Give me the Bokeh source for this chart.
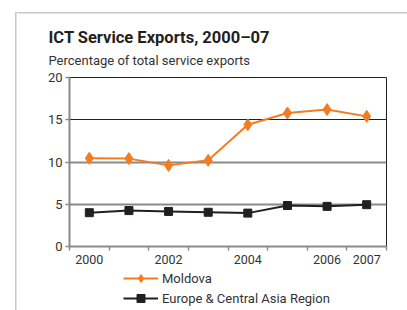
from bokeh.plotting import figure
from bokeh.layouts import column, row
from bokeh.models import (FixedTicker, Grid, Legend, LegendItem, Label, Range1d, BoxAnnotation)
from bokeh.embed import file_html
from bokeh.resources import INLINE

years = ["2000", "2001", "2002", "2003", "2004", "2005", "2006", "2007"]
shown_labels = ["2000", "", "2002", "", "2004", "", "2006", "2007"]
moldova = [10.45, 10.4, 9.6, 10.2, 14.4, 15.8, 16.2, 15.4]
eca = [4.0, 4.25, 4.15, 4.05, 3.95, 4.85, 4.75, 4.95]
y_ticks = [0, 5, 10, 15, 20]
series_names = ["Moldova", "Europe & Central Asia Region"]
title_text = "ICT Service Exports, 2000–07"
subtitle_text = "Percentage of total service exports"

FONT = "Roboto"
ORANGE = "#F47B20"
BLACK = "#231F20"
GRAY = "#8A8A8A"
TXT = "#333333"
FRAME = "#444444"
LW = 17
W = 390
H_T, H_P, H_L = 70, 198, 42

xs = [i + 0.5 for i in range(len(years))]


def strip(width, height):
    f = figure(width=width, height=height, output_backend="svg", toolbar_location=None, title=None,
               x_axis_type=None, y_axis_type=None, x_range=Range1d(0, 1), y_range=Range1d(0, 1),
               min_border_left=0, min_border_right=0, min_border_top=0, min_border_bottom=0)
    f.outline_line_color = None
    f.grid.visible = False
    f.frame_align = False
    return f


# ---- left strip carrying the outer frame's left edge
ls = strip(LW, H_T + H_P + H_L)
ls.add_layout(BoxAnnotation(left=15.25, right=500, top=H_T + H_P + H_L - 12.25, bottom=-50,
                            left_units="screen", right_units="screen",
                            top_units="screen", bottom_units="screen",
                            fill_alpha=0, line_color=FRAME, line_width=1.5))

# ---- title strip
t = strip(W, H_T)
t.add_layout(BoxAnnotation(left=-50, right=1000, top=H_T - 12.25, bottom=-50,
                           left_units="screen", right_units="screen",
                           top_units="screen", bottom_units="screen",
                           fill_alpha=0, line_color=FRAME, line_width=1.5))
t.add_layout(Label(x=31, y=33.5, x_units="screen", y_units="screen", text=title_text,
                   text_font=FONT, text_font_style="bold", text_font_size="16.5px", text_color=BLACK,
                   text_baseline="middle"))
t.add_layout(Label(x=31, y=10, x_units="screen", y_units="screen", text=subtitle_text,
                   text_font=FONT, text_font_size="13px", text_color=TXT,
                   text_baseline="middle"))

# ---- main plot
p = figure(width=W, height=H_P, output_backend="svg", toolbar_location=None, title=None,
           x_range=Range1d(0, len(years)), y_range=Range1d(0, 20),
           min_border_left=52, min_border_right=21, min_border_top=7, min_border_bottom=22)
p.frame_align = False
p.outline_line_color = BLACK
p.outline_line_width = 1

p.xgrid.visible = False
p.ygrid.ticker = FixedTicker(ticks=[15])
p.ygrid.grid_line_color = BLACK
p.ygrid.grid_line_width = 1
p.add_layout(Grid(dimension=1, ticker=FixedTicker(ticks=[5, 10]), grid_line_color=GRAY, grid_line_width=2))

p.xaxis.ticker = FixedTicker(ticks=xs, minor_ticks=list(range(len(years) + 1)))
p.xaxis.major_label_overrides = {x: lab for x, lab in zip(xs, shown_labels)}
p.xaxis.major_tick_out = 0
p.xaxis.major_tick_in = 0
p.xaxis.minor_tick_out = 4
p.xaxis.minor_tick_in = 0
p.xaxis.minor_tick_line_color = GRAY
p.xaxis.minor_tick_line_width = 1.5
p.xaxis.axis_line_color = GRAY
p.xaxis.axis_line_width = 2
p.xaxis.major_label_standoff = 4
p.xaxis.major_label_text_font = FONT
p.xaxis.major_label_text_font_size = "12.5px"
p.xaxis.major_label_text_color = TXT

p.yaxis.ticker = FixedTicker(ticks=y_ticks)
p.yaxis.minor_tick_line_color = None
p.yaxis.major_tick_out = 4
p.yaxis.major_tick_in = 0
p.yaxis.major_tick_line_color = GRAY
p.yaxis.major_tick_line_width = 1.5
p.yaxis.axis_line_color = GRAY
p.yaxis.axis_line_width = 2
p.yaxis.major_label_standoff = 3
p.yaxis.major_label_text_font = FONT
p.yaxis.major_label_text_font_size = "13px"
p.yaxis.major_label_text_color = TXT

p.line(xs, moldova, line_color=ORANGE, line_width=2)
p.scatter(xs, moldova, marker="diamond", size=12, fill_color=ORANGE, line_color=ORANGE)
p.line(xs, eca, line_color=BLACK, line_width=2)
p.scatter(xs, eca, marker="square", size=8, fill_color=BLACK, line_color=BLACK)

# ---- legend strip (series drawn out of view, only the legend shows)
lg = strip(W, H_L)
lg.x_range = Range1d(100, 101)
r1 = lg.line(xs, moldova, line_color=ORANGE, line_width=2)
m1 = lg.scatter(xs, moldova, marker="diamond", size=12, fill_color=ORANGE, line_color=ORANGE)
r2 = lg.line(xs, eca, line_color=BLACK, line_width=2)
m2 = lg.scatter(xs, eca, marker="square", size=8, fill_color=BLACK, line_color=BLACK)
legend = Legend(items=[LegendItem(label=series_names[0], renderers=[r1, m1]),
                       LegendItem(label=series_names[1], renderers=[r2, m2])],
                location=(106, 2), orientation="vertical",
                glyph_width=35, glyph_height=20, label_height=20, spacing=0,
                label_standoff=4, padding=0, margin=0,
                border_line_color=None, background_fill_alpha=0,
                label_text_font=FONT, label_text_font_size="13px", label_text_color=TXT)
lg.add_layout(legend, "center")

layout = row(ls, column(t, p, lg, spacing=0), spacing=0)

open("out.html", "w").write(file_html(layout, INLINE))
